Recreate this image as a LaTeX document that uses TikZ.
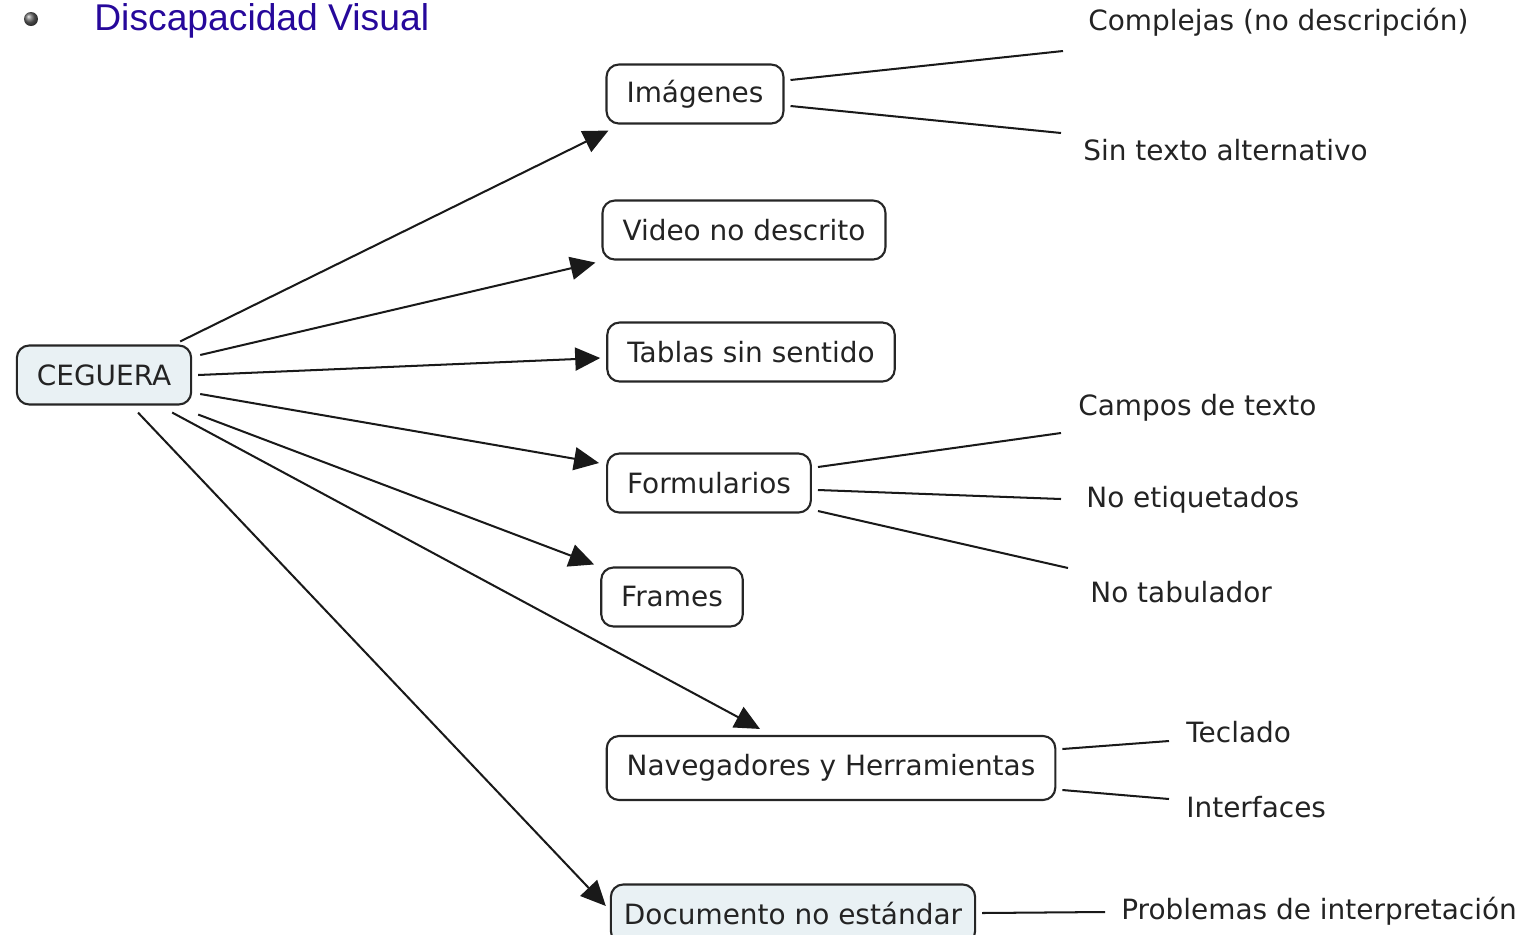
\documentclass[tikz,border=0pt]{standalone}
\usepackage{fontspec}
\setmainfont{DejaVu Sans}
\newfontfamily\titlefont{Liberation Sans}
\usetikzlibrary{arrows.meta,positioning}
\definecolor{titleblue}{RGB}{38,8,155}
\definecolor{conceptfill}{RGB}{233,241,244}
\definecolor{textgray}{RGB}{35,35,35}
\tikzset{
  concept/.style={draw=black!85, line width=1.2pt, rounded corners=7pt, inner xsep=0.4cm,
    minimum height=1.18cm, text=textgray, font=\fontsize{15.9}{18}\selectfont},
  leaf/.style={inner sep=0pt, anchor=west, text=textgray, font=\fontsize{15.9}{18}\selectfont},
  link/.style={draw=black!90, line width=1.15pt},
  arr/.style={link, -{Triangle[length=0.5cm,width=0.46cm]}}
}
\begin{document}
\begin{tikzpicture}[x=0.02cm,y=-0.02cm]
  \useasboundingbox (0,0) rectangle (1535,934);
  \shade[ball color=gray!80!black] (31,19) circle (7);
  \node (title) [anchor=west, inner sep=0pt, text=titleblue, font=\titlefont\fontsize{21.2}{24}\selectfont] at (94,21) {Discapacidad Visual};

  \node (ceg) [concept, fill=conceptfill] at (104,375) {CEGUERA};
  \node (img) [concept] at (695,94) {Imágenes};
  \node (video) [concept] at (744,230) {Video no descrito};
  \node (tab) [concept] at (751,352) {Tablas sin sentido};
  \node (form) [concept] at (709,483) {Formularios};
  \node (frames) [concept] at (672,597) {Frames};
  \node (nav) [concept, minimum height=1.28cm] at (831,768) {Navegadores y Herramientas};
  \node (doc) [concept, fill=conceptfill, inner xsep=0.26cm] at (793,914) {Documento no estándar};

  \node (compl) [leaf] at (1088,22) {Complejas (no descripción)};
  \node (sinalt) [leaf] at (1083,150) {Sin texto alternativo};
  \node (campos) [leaf] at (1078,408) {Campos de texto};
  \node (noetiq) [leaf] at (1086,500) {No etiquetados};
  \node (notab) [leaf] at (1090,592) {No tabulador};
  \node (tecl) [leaf] at (1186,732) {Teclado};
  \node (interf) [leaf] at (1186,807) {Interfaces};
  \node (probl) [leaf] at (1121,911) {Problemas de interpretación};

  \draw[arr] ([shift={(-12,-3)}]ceg.north east) -- ([shift={(3,6)}]img.south west);
  \draw[arr] ([shift={(8,-20)}]ceg.east) -- ([shift={(-6,2)}]video.south west);
  \draw[arr] ([shift={(6,0)}]ceg.east) -- ([shift={(-6,6)}]tab.west);
  \draw[arr] ([shift={(8,19)}]ceg.east) -- ([shift={(-7,-20)}]form.west);
  \draw[arr] ([shift={(6,9)}]ceg.south east) -- ([shift={(-6,-2)}]frames.north west);
  \draw[arr] ([shift={(-20,7)}]ceg.south east) -- ([shift={(-71,-6)}]nav.north);
  \draw[arr] ([shift={(34,7)}]ceg.south) -- ([shift={(-4,-8)}]doc.west);

  \draw[link] ([shift={(6,-14)}]img.east) -- ([shift={(-25,29)}]compl.west);
  \draw[link] ([shift={(6,12)}]img.east) -- ([shift={(-22,-17)}]sinalt.west);
  \draw[link] ([shift={(6,-16)}]form.east) -- ([shift={(-17,25)}]campos.west);
  \draw[link] ([shift={(6,7)}]form.east) -- ([shift={(-25,-1)}]noetiq.west);
  \draw[link] ([shift={(6,28)}]form.east) -- ([shift={(-22,-24)}]notab.west);
  \draw[link] ([shift={(6,-19)}]nav.east) -- ([shift={(-17,9)}]tecl.west);
  \draw[link] ([shift={(6,22)}]nav.east) -- ([shift={(-17,-8)}]interf.west);
  \draw[link] ([shift={(6,-1)}]doc.east) -- ([shift={(-16,1)}]probl.west);
\end{tikzpicture}
\end{document}
